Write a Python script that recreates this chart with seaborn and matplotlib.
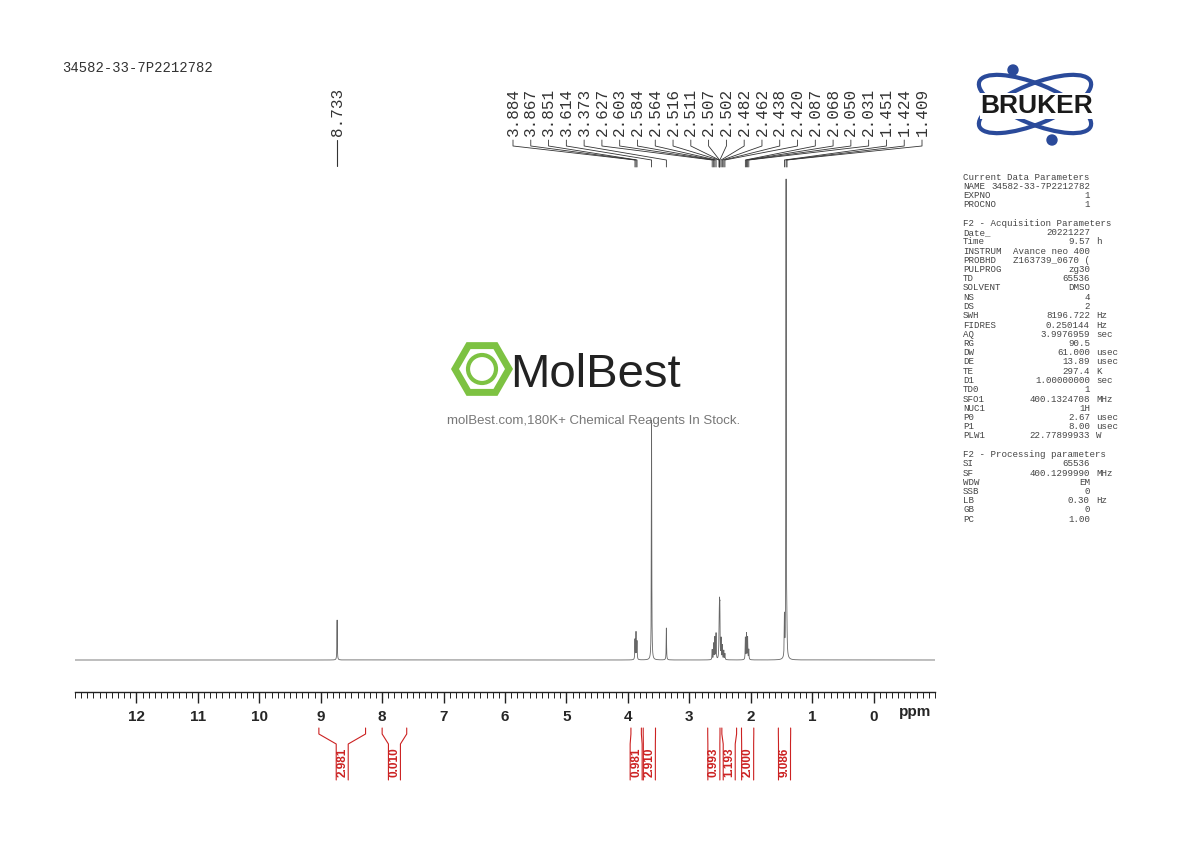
import numpy as np
import pandas as pd
import matplotlib.pyplot as plt
import seaborn as sns
from matplotlib.patches import Ellipse, RegularPolygon, Circle

sns.set_style('white')
plt.rcParams['font.family'] = ['Liberation Sans', 'DejaVu Sans']

# Peak list (ppm, height in arbitrary units)
peak_ppm = [8.733, 3.884, 3.867, 3.851, 3.614, 3.373, 2.627, 2.603, 2.584, 2.564,
            2.516, 2.511, 2.507, 2.502, 2.482, 2.462, 2.438, 2.420, 2.087, 2.068,
            2.050, 2.031, 1.451, 1.424, 1.409]
peak_height = [40, 20, 27, 18, 240, 32, 10, 16, 22, 26,
               18, 28, 34, 42, 20, 14, 9, 6, 22, 26,
               22, 10, 40, 480, 12]
peak_labels = ['3.884', '3.867', '3.851', '3.614', '3.373', '2.627', '2.603', '2.584',
               '2.564', '2.516', '2.511', '2.507', '2.502', '2.482', '2.462', '2.438',
               '2.420', '2.087', '2.068', '2.050', '2.031', '1.451', '1.424', '1.409']
integ_from = [9.03, 8.00, 3.95, 3.75, 2.70, 2.47, 2.15, 1.55]
integ_to = [8.27, 7.60, 3.78, 3.55, 2.50, 2.23, 1.95, 1.35]
integ_value = ['2.981', '0.010', '0.981', '2.910', '0.993', '1.193', '2.000', '9.086']

params = [
    ('Current Data Parameters', '', ''), ('NAME', '34582-33-7P2212782', ''),
    ('EXPNO', '1', ''), ('PROCNO', '1', ''), ('', '', ''),
    ('F2 - Acquisition Parameters', '', ''), ('Date_', '20221227', ''),
    ('Time', '9.57', 'h'), ('INSTRUM', 'Avance neo 400', ''),
    ('PROBHD', 'Z163739_0670 (', ''), ('PULPROG', 'zg30', ''), ('TD', '65536', ''),
    ('SOLVENT', 'DMSO', ''), ('NS', '4', ''), ('DS', '2', ''),
    ('SWH', '8196.722', 'Hz'), ('FIDRES', '0.250144', 'Hz'),
    ('AQ', '3.9976959', 'sec'), ('RG', '90.5', ''), ('DW', '61.000', 'usec'),
    ('DE', '13.89', 'usec'), ('TE', '297.4', 'K'), ('D1', '1.00000000', 'sec'),
    ('TD0', '1', ''), ('SFO1', '400.1324708', 'MHz'), ('NUC1', '1H', ''),
    ('P0', '2.67', 'usec'), ('P1', '8.00', 'usec'), ('PLW1', '22.77899933', 'W'),
    ('', '', ''), ('F2 - Processing parameters', '', ''), ('SI', '65536', ''),
    ('SF', '400.1299990', 'MHz'), ('WDW', 'EM', ''), ('SSB', '0', ''),
    ('LB', '0.30', 'Hz'), ('GB', '0', ''), ('PC', '1.00', ''),
]

x = np.linspace(13, -1, 28000)
w = 0.0035
y = np.zeros_like(x)
for p, h in zip(peak_ppm, peak_height):
    y += h / (1 + ((x - p) / w) ** 2)
df = pd.DataFrame({'ppm': x, 'I': y})

fig = plt.figure(figsize=(11.9, 8.42), dpi=100)
W, H = 1190, 842
ax = fig.add_axes([75 / W, (H - 692) / H, 860 / W, 522 / H])
sns.lineplot(data=df, x='ppm', y='I', ax=ax, color='#666666', lw=0.6)
ax.set_xlim(13, -1)
ax.set_ylim(-32, 490)
for s in ['top', 'right', 'left']:
    ax.spines[s].set_visible(False)
ax.spines['bottom'].set_linewidth(1.0)
ax.spines['bottom'].set_color('#222222')
ax.set_yticks([])
ax.set_xticks(range(0, 13))
ax.set_xticks(np.arange(-1, 13.01, 0.1), minor=True)
ax.set_xticklabels([str(i) for i in range(0, 13)], fontsize=11, fontweight='bold')
ax.tick_params(axis='x', which='major', direction='out', length=8, width=1, pad=5,
               bottom=True, color='#222222')
ax.tick_params(axis='x', which='minor', direction='out', length=4, width=0.7,
               bottom=True, color='#222222')
ax.set_xlabel('')
ax.set_ylabel('')

# overlay in pixel coordinates
ov = fig.add_axes([0, 0, 1, 1], facecolor='none')
ov.set_xlim(0, W)
ov.set_ylim(H, 0)
ov.axis('off')


def px(ppm):
    return 75 + (13 - ppm) * 860 / 14


ov.text(899, 712, 'ppm', fontsize=11, fontweight='bold', va='center')
ov.text(62, 68, '34582-33-7P2212782', family='Liberation Mono', fontsize=10,
        color='#333333', va='center')

# peak labels
mono = 'Liberation Mono'
ov.text(px(8.733), 112, '8.733', rotation=90, family=mono, fontsize=11.5,
        ha='center', va='center', color='#333333')
ov.plot([px(8.733)] * 2, [140, 166], color='#333333', lw=0.8)
lx = np.linspace(513, 922, len(peak_labels))
for xx, lab in zip(lx, peak_labels):
    ov.text(xx, 112, lab, rotation=90, family=mono, fontsize=11.5,
            ha='center', va='center', color='#333333')
    p = float(lab)
    ov.plot([xx, xx, px(p), px(p)], [140, 146, 160, 167], color='#333333', lw=0.6)

# integrals
for a, b, v in zip(integ_from, integ_to, integ_value):
    x1, x2 = px(a), px(b)
    xc = (x1 + x2) / 2
    ov.plot([x1, x1, xc - 6, xc - 6], [728, 734, 744, 780], color='#cc2222', lw=0.8)
    ov.plot([x2, x2, xc + 6, xc + 6], [728, 734, 744, 780], color='#cc2222', lw=0.8)
    ov.text(xc, 762, v, rotation=90, color='#cc2222', fontsize=8.5, fontweight='bold',
            ha='center', va='center')

# parameters panel
yy = 177
for k, val, unit in params:
    if k:
        ov.text(963, yy, k, family=mono, fontsize=6.6, color='#444444', va='center')
    if val:
        ov.text(1090, yy, val, family=mono, fontsize=6.6, color='#444444',
                va='center', ha='right')
    if unit:
        ov.text(1096, yy, unit, family=mono, fontsize=6.6, color='#444444', va='center')
    yy += 9.25

# Bruker logo
for ang in (22, -22):
    ov.add_patch(Ellipse((1035, 104), 120, 40, angle=ang, fill=False,
                         ec='#2a4a9a', lw=3))
ov.add_patch(Circle((1013, 70), 5, color='#2a4a9a'))
ov.add_patch(Circle((1052, 140), 5, color='#2a4a9a'))
ov.text(1037, 106, 'BRUKER', fontsize=19, fontweight='bold', ha='center',
        va='center', color='#1a1a1a',
        bbox=dict(fc='white', ec='none', pad=0.5))

# watermark
ov.add_patch(RegularPolygon((482, 369), 6, radius=27, orientation=np.pi / 6,
                            fill=False, ec='#7dc242', lw=5))
ov.add_patch(Circle((482, 369), 14, fill=False, ec='#7dc242', lw=3))
t = ov.text(510, 375, 'MolBest', fontsize=34, ha='left', va='center',
            color='#222222', fontstretch='condensed')
t.set_transform(ov.transData)
ov.text(594, 421, 'molBest.com,180K+ Chemical Reagents In Stock.', fontsize=9.5,
        ha='center', va='center', color='#777777')

fig.savefig('out.png', dpi=100)
